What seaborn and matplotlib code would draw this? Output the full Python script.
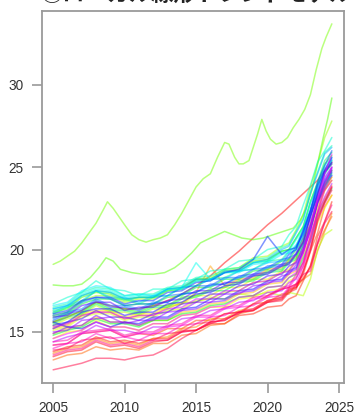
import colorsys
import matplotlib
matplotlib.use("Agg")
import matplotlib.pyplot as plt
import pandas as pd
import seaborn as sns

# Common time grid for most series (annual, then half-yearly near the end)
years = [2005, 2006, 2007, 2008, 2009, 2010, 2011, 2012, 2013, 2014, 2015,
         2016, 2017, 2018, 2019, 2020, 2021, 2021.5, 2022, 2022.5, 2023,
         2023.5, 2024, 2024.5]

s01 = [15.6, 15.9, 16.3, 16.8, 16.6, 16.4, 16.4, 16.6, 16.9, 17.3, 17.8, 18.4, 19.2, 19.9, 20.7, 21.5, 22.2, 22.6, 23.0, 23.4, 23.8, 24.2, 24.8, 25.3]
s02 = [13.8, 14.1, 14.2, 14.7, 14.4, 14.5, 14.3, 14.6, 14.6, 15.1, 15.1, 15.5, 15.5, 16.0, 16.1, 16.5, 16.6, 17.0, 17.2, 18.1, 19.0, 20.8, 21.7, 22.9]
s03 = [14.2, 14.3, 14.9, 15.0, 15.1, 14.7, 14.9, 14.8, 15.2, 15.2, 15.7, 15.7, 16.1, 16.2, 16.7, 16.8, 17.3, 17.3, 17.9, 18.5, 19.9, 21.0, 22.6, 23.3]
s04 = [13.3, 13.6, 13.7, 14.1, 13.9, 14.0, 13.9, 14.3, 14.3, 14.8, 14.9, 15.4, 15.5, 16.1, 16.3, 16.9, 17.1, 17.6, 17.7, 18.3, 18.9, 20.3, 21.2, 22.0]
s05 = [13.7, 14.0, 14.1, 14.6, 14.3, 14.4, 14.2, 14.6, 14.7, 15.2, 15.3, 15.8, 15.8, 16.3, 16.4, 16.9, 17.0, 17.5, 17.7, 18.2, 18.5, 19.9, 21.1, 22.2]
s06 = [15.2, 15.4, 16.0, 16.2, 16.2, 15.8, 16.0, 16.0, 16.5, 16.7, 17.4, 19.0, 17.8, 18.2, 18.3, 18.8, 18.9, 19.4, 19.6, 20.6, 21.5, 22.9, 23.6, 24.4]
s07 = [14.9, 15.2, 15.4, 15.9, 15.6, 15.6, 15.4, 15.7, 15.7, 16.2, 16.3, 16.7, 16.8, 17.3, 17.4, 17.9, 18.0, 18.5, 18.7, 19.7, 20.7, 22.2, 23.1, 23.9]
s08 = [15.3, 15.5, 16.1, 16.3, 16.3, 15.9, 16.1, 16.1, 16.6, 16.7, 17.2, 17.2, 17.7, 17.7, 18.2, 18.2, 18.7, 18.8, 19.4, 20.0, 21.4, 22.6, 23.9, 24.4]
s09 = [14.6, 15.0, 15.1, 15.7, 15.3, 15.3, 15.1, 15.5, 15.5, 16.0, 16.1, 16.5, 16.5, 17.0, 17.1, 17.5, 17.6, 18.1, 18.3, 19.2, 20.1, 21.6, 22.5, 23.3]
s10 = [15.1, 15.3, 15.9, 16.1, 16.1, 15.7, 15.9, 15.9, 16.3, 16.4, 16.9, 17.0, 17.4, 17.5, 18.0, 18.1, 18.6, 18.7, 19.3, 19.9, 21.3, 22.4, 23.6, 24.2]
s11 = [15.4, 15.8, 16.0, 16.6, 16.2, 16.2, 16.0, 16.4, 16.4, 16.8, 16.8, 17.1, 17.0, 17.3, 17.2, 17.4, 17.2, 17.4, 17.3, 17.2, 18.2, 20.0, 20.9, 21.2]
s12 = [16.0, 16.2, 16.9, 17.2, 17.2, 16.8, 17.0, 17.0, 17.5, 17.6, 18.2, 18.3, 18.8, 18.9, 19.5, 19.6, 20.2, 20.4, 21.2, 22.1, 23.8, 25.2, 26.8, 27.8]
s15 = [16.2, 16.4, 17.1, 17.4, 17.3, 16.9, 17.1, 17.1, 17.6, 17.7, 18.2, 18.2, 18.7, 18.8, 19.3, 19.4, 19.9, 20.0, 20.7, 21.4, 22.9, 24.0, 25.2, 25.7]
s16 = [15.6, 16.0, 16.2, 16.8, 16.4, 16.4, 16.2, 16.6, 16.6, 17.1, 17.2, 17.6, 17.7, 18.1, 18.2, 18.7, 18.8, 19.3, 19.5, 20.5, 21.5, 23.1, 24.0, 24.8]
s17 = [14.8, 15.1, 15.3, 15.8, 15.5, 15.5, 15.3, 15.7, 15.7, 16.1, 16.2, 16.6, 16.7, 17.1, 17.2, 17.7, 17.8, 18.3, 18.5, 19.5, 20.5, 22.0, 22.9, 23.7]
s18 = [15.9, 16.1, 16.7, 17.0, 17.0, 16.6, 16.7, 16.7, 17.1, 17.2, 17.7, 17.7, 18.2, 18.2, 18.7, 18.8, 19.3, 19.4, 20.0, 20.7, 22.1, 23.3, 24.6, 25.2]
s19 = [15.5, 15.9, 16.1, 16.7, 16.3, 16.3, 16.1, 16.5, 16.5, 17.0, 17.1, 17.5, 17.5, 18.0, 18.1, 18.6, 18.7, 19.2, 19.4, 20.3, 21.3, 22.9, 23.8, 24.6]
s20 = [16.3, 16.5, 17.2, 17.5, 17.4, 17.0, 17.1, 17.1, 17.5, 17.6, 18.1, 18.2, 18.6, 18.7, 19.2, 19.3, 19.9, 20.0, 20.7, 21.4, 22.9, 24.1, 25.4, 25.9]
s21 = [16.1, 16.5, 16.8, 17.5, 17.0, 17.0, 16.7, 17.1, 17.2, 17.7, 17.8, 18.2, 18.3, 18.7, 18.8, 19.3, 19.4, 19.9, 20.2, 21.3, 22.3, 23.9, 24.7, 25.4]
s22 = [16.5, 16.7, 17.4, 17.7, 17.6, 17.2, 17.3, 17.3, 17.7, 17.8, 18.3, 18.4, 18.8, 18.9, 19.4, 19.5, 20.1, 20.3, 21.1, 21.9, 23.5, 24.7, 25.9, 26.3]
s23 = [16.7, 17.1, 17.4, 18.1, 17.6, 17.5, 17.2, 17.6, 17.6, 18.1, 18.2, 18.7, 18.8, 19.3, 19.4, 20.0, 20.2, 20.9, 21.4, 22.7, 23.9, 25.3, 26.0, 26.8]
s24 = [16.4, 16.6, 17.3, 17.6, 17.5, 17.1, 17.2, 17.2, 17.6, 17.7, 19.2, 18.2, 18.6, 18.7, 19.2, 19.3, 19.8, 19.9, 20.6, 21.3, 22.8, 23.9, 25.1, 25.6]
s25 = [16.6, 16.8, 17.5, 17.8, 17.7, 17.2, 17.3, 17.2, 17.6, 17.6, 18.1, 18.1, 18.6, 18.6, 19.1, 19.2, 19.7, 19.8, 20.3, 21.0, 22.2, 23.3, 24.1, 24.5]
s26 = [16.2, 16.6, 16.9, 17.5, 17.1, 17.1, 16.8, 17.2, 17.2, 17.7, 17.8, 18.2, 18.2, 18.7, 18.8, 19.2, 19.3, 19.8, 20.0, 21.0, 22.1, 23.7, 24.6, 25.4]
s27 = [16.4, 16.6, 17.2, 17.5, 17.4, 17.0, 17.1, 17.1, 17.6, 17.7, 18.2, 18.2, 18.7, 18.7, 19.2, 19.4, 20.0, 20.2, 21.0, 21.8, 23.4, 24.6, 25.8, 26.2]
s28 = [15.8, 16.2, 16.4, 17.0, 16.6, 16.6, 16.4, 16.8, 16.8, 17.3, 17.4, 17.8, 17.9, 18.3, 18.4, 18.9, 19.0, 19.5, 19.7, 20.8, 21.9, 23.5, 24.3, 25.0]
s29 = [16.0, 16.2, 16.8, 17.1, 17.0, 16.6, 16.7, 16.7, 17.2, 17.3, 17.8, 17.8, 18.3, 18.3, 18.8, 18.9, 19.4, 19.5, 20.2, 20.9, 22.4, 23.6, 24.9, 25.5]
s30 = [15.7, 16.1, 16.3, 16.9, 16.5, 16.5, 16.3, 16.7, 16.8, 17.3, 17.4, 17.9, 17.9, 18.4, 18.5, 19.0, 19.1, 19.7, 20.0, 21.2, 22.4, 24.1, 25.1, 26.0]
s31 = [16.1, 16.3, 16.9, 17.1, 17.1, 16.7, 16.9, 16.9, 17.4, 17.5, 18.0, 18.1, 18.6, 18.8, 19.4, 20.8, 19.7, 20.0, 20.1, 21.1, 22.3, 23.9, 24.8, 25.6]
s32 = [15.6, 15.3, 15.2, 15.6, 15.3, 15.6, 15.5, 15.9, 15.9, 16.4, 16.5, 17.0, 17.0, 17.5, 17.6, 18.1, 18.2, 18.7, 18.9, 20.0, 21.2, 22.9, 23.9, 24.7]
s33 = [15.4, 15.6, 16.2, 16.4, 16.4, 16.0, 16.2, 16.2, 16.7, 16.8, 17.3, 17.4, 17.8, 17.9, 18.4, 18.5, 19.0, 19.1, 19.7, 20.4, 22.0, 23.3, 24.7, 25.3]
s34 = [15.2, 15.6, 15.8, 16.3, 15.9, 15.9, 15.7, 16.1, 16.2, 16.7, 16.8, 17.3, 17.3, 17.8, 17.9, 18.4, 18.5, 19.0, 19.2, 20.2, 21.4, 23.1, 24.1, 24.9]
s35 = [15.9, 16.0, 16.6, 16.8, 16.8, 16.3, 16.5, 16.5, 16.9, 17.0, 17.5, 17.5, 18.0, 18.0, 18.5, 18.6, 19.1, 19.2, 19.8, 20.5, 22.1, 23.4, 24.7, 25.2]
s36 = [14.9, 15.3, 15.4, 16.0, 15.6, 15.6, 15.4, 15.8, 15.8, 16.3, 16.4, 16.8, 16.9, 17.4, 17.5, 18.0, 18.1, 18.6, 18.8, 19.9, 21.1, 22.8, 23.7, 24.5]
s37 = [15.0, 15.1, 15.7, 15.8, 15.9, 15.5, 15.7, 15.7, 16.2, 16.3, 16.8, 16.8, 17.3, 17.3, 17.8, 17.9, 18.4, 18.5, 19.1, 19.8, 21.4, 22.8, 24.2, 24.8]
s38 = [14.4, 14.7, 14.9, 15.4, 15.1, 15.1, 14.9, 15.3, 15.3, 15.8, 15.9, 16.3, 16.4, 16.8, 16.9, 17.4, 17.5, 18.0, 18.2, 19.3, 20.5, 22.2, 23.2, 24.0]
s39 = [15.3, 15.5, 16.0, 16.2, 16.2, 15.8, 16.0, 16.0, 16.4, 16.5, 17.0, 17.0, 17.5, 17.5, 18.0, 18.1, 18.6, 18.7, 19.3, 20.0, 21.7, 23.0, 24.4, 25.0]
s40 = [14.6, 14.9, 15.1, 15.6, 15.3, 15.3, 15.1, 15.5, 15.5, 16.0, 16.1, 16.5, 16.6, 17.1, 17.2, 17.7, 17.8, 18.3, 18.6, 19.8, 21.3, 23.1, 24.6, 25.8]
s41 = [14.2, 14.3, 14.9, 15.0, 15.1, 14.7, 14.9, 14.9, 15.3, 15.4, 15.9, 15.9, 16.4, 16.5, 17.0, 17.1, 17.6, 17.7, 18.3, 19.0, 20.7, 22.3, 23.9, 25.0]
s42 = [14.0, 14.3, 14.4, 14.9, 14.6, 14.7, 14.5, 14.9, 14.9, 15.4, 15.5, 15.9, 16.0, 16.5, 16.6, 17.1, 17.2, 17.7, 17.9, 19.0, 20.2, 22.0, 23.0, 23.8]
s43 = [14.4, 14.5, 15.0, 15.1, 15.2, 14.8, 15.0, 15.0, 15.4, 15.5, 16.0, 16.0, 16.5, 16.6, 17.1, 17.2, 17.7, 17.8, 18.5, 19.2, 20.9, 22.2, 23.6, 24.2]
s44 = [13.6, 13.9, 14.0, 14.5, 14.2, 14.3, 14.1, 14.5, 14.5, 15.0, 15.1, 15.6, 15.7, 16.2, 16.4, 16.9, 17.1, 17.6, 17.8, 18.5, 18.7, 20.4, 21.7, 22.7]
s45 = [13.9, 14.0, 14.5, 14.6, 14.7, 14.3, 14.5, 14.5, 14.9, 15.0, 15.5, 15.6, 16.1, 16.2, 16.3, 16.8, 17.0, 17.5, 17.7, 18.7, 19.9, 21.7, 22.8, 23.6]
s46 = [12.7, 12.9, 13.1, 13.4, 13.4, 13.3, 13.5, 13.6, 14.0, 14.6, 15.1, 15.5, 15.8, 16.1, 16.7, 17.2, 17.6, 17.7, 17.9, 18.2, 19.0, 20.4, 21.6, 22.3]
s47 = [13.5, 13.8, 13.9, 14.4, 14.1, 14.2, 14.0, 14.4, 14.5, 15.0, 15.1, 15.6, 15.7, 16.2, 16.3, 16.8, 16.9, 17.4, 17.6, 18.7, 20.0, 21.8, 22.9, 23.8]

# The two highest series, on their own finer time points
s13_t = [2005, 2005.5, 2006, 2006.5, 2007, 2007.5, 2008, 2008.5, 2008.8, 2009.2,
         2009.6, 2010, 2010.5, 2011, 2011.5, 2012, 2012.5, 2013, 2013.5, 2014,
         2014.5, 2015, 2015.5, 2016, 2016.5, 2017, 2017.3, 2017.7, 2018, 2018.3,
         2018.7, 2019, 2019.3, 2019.6, 2019.9, 2020.2, 2020.6, 2021, 2021.4,
         2021.8, 2022.2, 2022.6, 2023, 2023.4, 2023.8, 2024.1, 2024.5]
s13 = [19.1, 19.3, 19.6, 19.9, 20.4, 21.0, 21.6, 22.4, 22.9, 22.5,
       22.0, 21.5, 20.9, 20.6, 20.45, 20.6, 20.7, 20.9, 21.5, 22.2,
       23.0, 23.8, 24.3, 24.6, 25.6, 26.5, 26.4, 25.6, 25.2, 25.2,
       25.4, 26.2, 27.0, 27.9, 27.2, 26.7, 26.4, 26.5, 26.8,
       27.4, 27.9, 28.5, 29.4, 30.9, 32.2, 32.9, 33.7]
s14_t = [2005, 2005.7, 2006.4, 2007, 2007.6, 2008.2, 2008.7, 2009.2, 2009.7, 2010.5,
         2011.3, 2012, 2012.8, 2013.5, 2014.1, 2014.7, 2015.3, 2016, 2016.5, 2017,
         2017.6, 2018.2, 2019, 2019.7, 2020.4, 2021.1, 2021.8, 2022.3, 2022.7,
         2023.1, 2023.5, 2023.9, 2024.2, 2024.5]
s14 = [17.85, 17.8, 17.8, 17.9, 18.3, 18.9, 19.5, 19.3, 18.8, 18.6,
       18.5, 18.5, 18.6, 18.9, 19.3, 19.8, 20.4, 20.7, 20.9, 21.1,
       20.9, 20.7, 20.6, 20.7, 20.9, 21.1, 21.3, 21.8, 22.5,
       23.6, 25.2, 26.8, 27.9, 29.2]

xticks = [2005, 2010, 2015, 2020, 2025]
yticks = [15, 20, 25, 30]
title = "③ローカル線形トレンドモデル"

series = [s01, s02, s03, s04, s05, s06, s07, s08, s09, s10, s11, s12, s13, s14,
          s15, s16, s17, s18, s19, s20, s21, s22, s23, s24, s25, s26, s27, s28,
          s29, s30, s31, s32, s33, s34, s35, s36, s37, s38, s39, s40, s41, s42,
          s43, s44, s45, s46, s47]

frames = []
for i, vals in enumerate(series, start=1):
    t = s13_t if i == 13 else s14_t if i == 14 else years
    frames.append(pd.DataFrame({"year": t, "value": vals, "id": i}))
df = pd.concat(frames, ignore_index=True)

# rainbow palette, hues evenly spaced from red round to pink
n = len(series)
palette = [colorsys.hsv_to_rgb(k / n, 1.0, 1.0) for k in range(n)]

sns.set_style("white")
fig = plt.figure(figsize=(3.54, 4.17), dpi=100)
ax = fig.add_axes([42 / 354, 1 - 383 / 417, 302 / 354, 372 / 417])

sns.lineplot(data=df, x="year", y="value", hue="id", palette=palette,
             estimator=None, sort=False, legend=False, alpha=0.5,
             linewidth=1.1, ax=ax)

ax.set_xlim(2004.22, 2025.35)
ax.set_ylim(11.9, 34.48)
ax.set_xticks(xticks)
ax.set_yticks(yticks)
ax.set_xlabel("")
ax.set_ylabel("")
for sp in ax.spines.values():
    sp.set_visible(True)
    sp.set_color("#9a9a9a")
    sp.set_linewidth(1.3)
ax.tick_params(axis="both", direction="out", length=7, width=1.2,
               color="#9a9a9a", labelcolor="#333333", labelsize=9.8)
ax.tick_params(axis="x", pad=6, bottom=True)
ax.tick_params(axis="y", pad=6, left=True)
for lab in ax.get_xticklabels() + ax.get_yticklabels():
    lab.set_fontfamily("Liberation Sans")

fig.text(196 / 354, 1 + 5.5 / 417, title, ha="center", va="center",
         fontsize=16, fontweight="bold", color="#222222",
         family=["Noto Sans CJK JP", "DejaVu Sans"])

fig.savefig("out.png", dpi=100)
